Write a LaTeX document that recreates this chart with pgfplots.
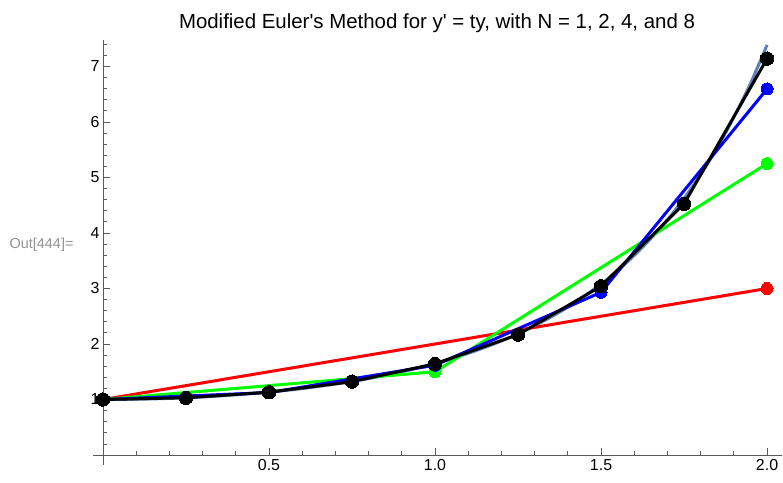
\documentclass[border=0pt]{standalone}
\usepackage{fontspec}
\setmainfont{Liberation Sans}
\usepackage{pgfplots}
\pgfplotsset{compat=1.18}
\definecolor{exactc}{rgb}{0.368,0.507,0.710}
\definecolor{axc}{gray}{0.35}
\begin{document}
\begin{tikzpicture}[x=1bp,y=1bp]
\useasboundingbox (0,0) rectangle (783,483);
\begin{axis}[
  at={(93bp,18bp)}, anchor=south west,
  scale only axis, width=689bp, height=424.6bp,
  xmin=-0.03, xmax=2.045, ymin=-0.18, ymax=7.47,
  axis lines=middle,
  axis line style={-, draw=axc, line width=0.9bp},
  tick align=inside,
  xtick={0.5,1,1.5,2}, xticklabels={0.5,1.0,1.5,2.0},
  minor xtick={0.1,0.2,0.3,0.4,0.6,0.7,0.8,0.9,1.1,1.2,1.3,1.4,1.6,1.7,1.8,1.9},
  ytick={1,2,3,4,5,6,7},
  minor ytick={0.2,0.4,...,7.4},
  major tick length=7bp, minor tick length=4bp,
  every tick/.style={axc, line width=0.9bp},
  every minor tick/.style={axc, line width=0.8bp},
  every tick label/.append style={font=\fontsize{16}{18}\selectfont, text=black},
  xticklabel style={font=\fontsize{16}{18}\selectfont, yshift=-1bp},
  yticklabel style={font=\fontsize{16}{18}\selectfont},
  /pgf/number format/assume math mode=true,
  clip=false,
]
% exact solution y = exp(t^2/2)
\addplot[exactc, line width=3bp, smooth] coordinates {
(0,1) (0.1,1.0050) (0.2,1.0202) (0.3,1.0460) (0.4,1.0833) (0.5,1.1331)
(0.6,1.1972) (0.7,1.2776) (0.8,1.3771) (0.9,1.4993) (1.0,1.6487)
(1.1,1.8313) (1.2,2.0544) (1.3,2.3269) (1.4,2.6645) (1.5,3.0802)
(1.55,3.3243) (1.6,3.5966) (1.65,3.9011) (1.7,4.2402) (1.75,4.6238)
(1.8,5.0531) (1.85,5.5351) (1.9,6.0890) (1.95,6.6938) (2.0,7.3891)};
% N = 1
\addplot[red, line width=3bp, mark=*, mark size=6bp, mark options={fill=red, draw=red, line width=0bp}] coordinates {(0,1) (2,3)};
% N = 2
\addplot[green, line width=3bp, mark=*, mark size=6bp, mark options={fill=green, draw=green, line width=0bp}] coordinates {(0,1) (1,1.5) (2,5.25)};
% N = 4
\addplot[blue, line width=3bp, mark=*, mark size=6bp, mark options={fill=blue, draw=blue, line width=0bp}] coordinates {(0,1) (0.5,1.125) (1,1.6172) (1.5,2.9312) (2,6.5951)};
% N = 8
\addplot[black, line width=3bp, mark=*, mark size=6.7bp, mark options={fill=black, draw=black, line width=0bp}] coordinates {(0,1) (0.25,1.0313) (0.5,1.1320) (0.75,1.3221) (1,1.6423) (1.25,2.1683) (1.5,3.0407) (1.75,4.5255) (2,7.1418)};
\end{axis}
\node[font=\fontsize{20.5}{23}\selectfont, anchor=center] at (437,460) {Modified Euler\textquotesingle s Method for y\textquotesingle{} = ty, with N = 1, 2, 4, and 8};
\node[font=\fontsize{14.5}{16}\selectfont, text=gray!85, anchor=east] at (77,238) {Out[444]=};
\end{tikzpicture}
\end{document}
